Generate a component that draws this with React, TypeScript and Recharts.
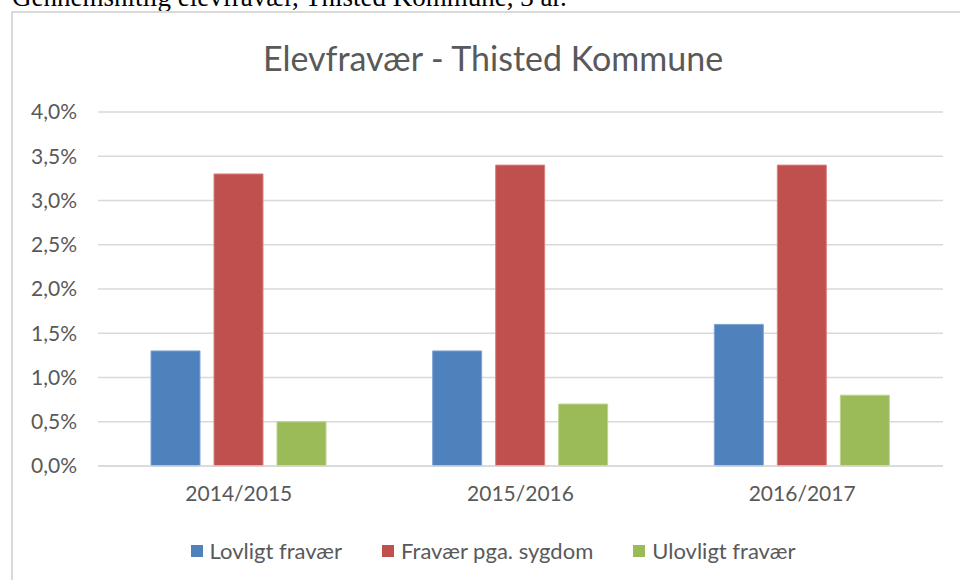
import { BarChart, Bar, XAxis, YAxis, CartesianGrid } from 'recharts';

// Skoleår
const years = ['2014/2015', '2015/2016', '2016/2017'];

// Fravær i procent
const lovligt = [1.3, 1.3, 1.6];
const sygdom = [3.3, 3.4, 3.4];
const ulovligt = [0.5, 0.7, 0.8];

const yTicks = [0, 0.5, 1, 1.5, 2, 2.5, 3, 3.5, 4];

const series = [
  { key: 'lovligt', name: 'Lovligt fravær', color: '#4F81BD', stroke: '#7EA3D3' },
  { key: 'sygdom', name: 'Fravær pga. sygdom', color: '#C0504D', stroke: '#D9817F' },
  { key: 'ulovligt', name: 'Ulovligt fravær', color: '#9BBB59', stroke: '#BDD48F' },
];

const data = years.map((year, i) => ({
  year,
  lovligt: lovligt[i],
  sygdom: sygdom[i],
  ulovligt: ulovligt[i],
}));

const FONT = 'Lato, "Open Sans", sans-serif';
const TEXT = '#595959';

const fmt = (v: number) => v.toFixed(1).replace('.', ',') + '%';

function LegendRow() {
  return (
    <div
      style={{
        position: 'absolute',
        top: 537,
        left: 12,
        width: 962,
        display: 'flex',
        justifyContent: 'center',
        gap: 40,
        fontFamily: FONT,
        fontSize: 22,
        lineHeight: '28px',
        color: TEXT,
      }}
    >
      {series.map((s) => (
        <div key={s.key} style={{ display: 'flex', alignItems: 'center', gap: 7 }}>
          <div style={{ width: 12, height: 12, background: s.color }} />
          <span>{s.name}</span>
        </div>
      ))}
    </div>
  );
}

export default function App() {
  return (
    <div
      style={{
        position: 'fixed',
        top: 0,
        left: 0,
        width: 960,
        height: 580,
        overflow: 'hidden',
        background: '#fff',
      }}
    >
      {/* caption above the chart, cut off at the top */}
      <div
        style={{
          position: 'absolute',
          top: -16,
          left: 12,
          fontFamily: '"Liberation Serif", "Times New Roman", serif',
          fontSize: 27,
          lineHeight: '27px',
          whiteSpace: 'nowrap',
          color: '#000',
        }}
      >
        Gennemsnitlig elevfravær, Thisted Kommune, 3 år.
      </div>

      {/* chart frame */}
      <div
        style={{
          position: 'absolute',
          top: 11,
          left: 11,
          width: 964,
          height: 600,
          border: '2px solid #D9D9D9',
          boxSizing: 'border-box',
        }}
      />

      <div
        style={{
          position: 'absolute',
          top: 36,
          left: 12,
          width: 962,
          textAlign: 'center',
          fontFamily: FONT,
          fontSize: 34,
          lineHeight: '44px',
          color: TEXT,
        }}
      >
        Elevfravær - Thisted Kommune
      </div>

      <div style={{ position: 'absolute', top: 0, left: 0 }}>
        <BarChart
          width={960}
          height={580}
          data={data}
          margin={{ top: 112, right: 17, bottom: 0, left: 0 }}
          barGap={14}
          barSize={49}
        >
          <CartesianGrid vertical={false} stroke="#D9D9D9" strokeWidth={1.5} />
          <XAxis
            dataKey="year"
            height={114}
            axisLine={{ stroke: '#D9D9D9', strokeWidth: 1.5 }}
            tickLine={false}
            tickSize={0}
            tickMargin={20}
            tick={{ fill: TEXT, fontSize: 21, fontFamily: FONT }}
          />
          <YAxis
            width={98}
            domain={[0, 4]}
            ticks={yTicks}
            interval={0}
            axisLine={false}
            tickLine={false}
            tickSize={0}
            tickMargin={21}
            tickFormatter={fmt}
            tick={{ fill: TEXT, fontSize: 21, fontFamily: FONT }}
          />
          {series.map((s) => (
            <Bar
              key={s.key}
              dataKey={s.key}
              name={s.name}
              fill={s.color}
              stroke={s.stroke}
              strokeWidth={1}
              isAnimationActive={false}
            />
          ))}
        </BarChart>
      </div>

      <LegendRow />
    </div>
  );
}
